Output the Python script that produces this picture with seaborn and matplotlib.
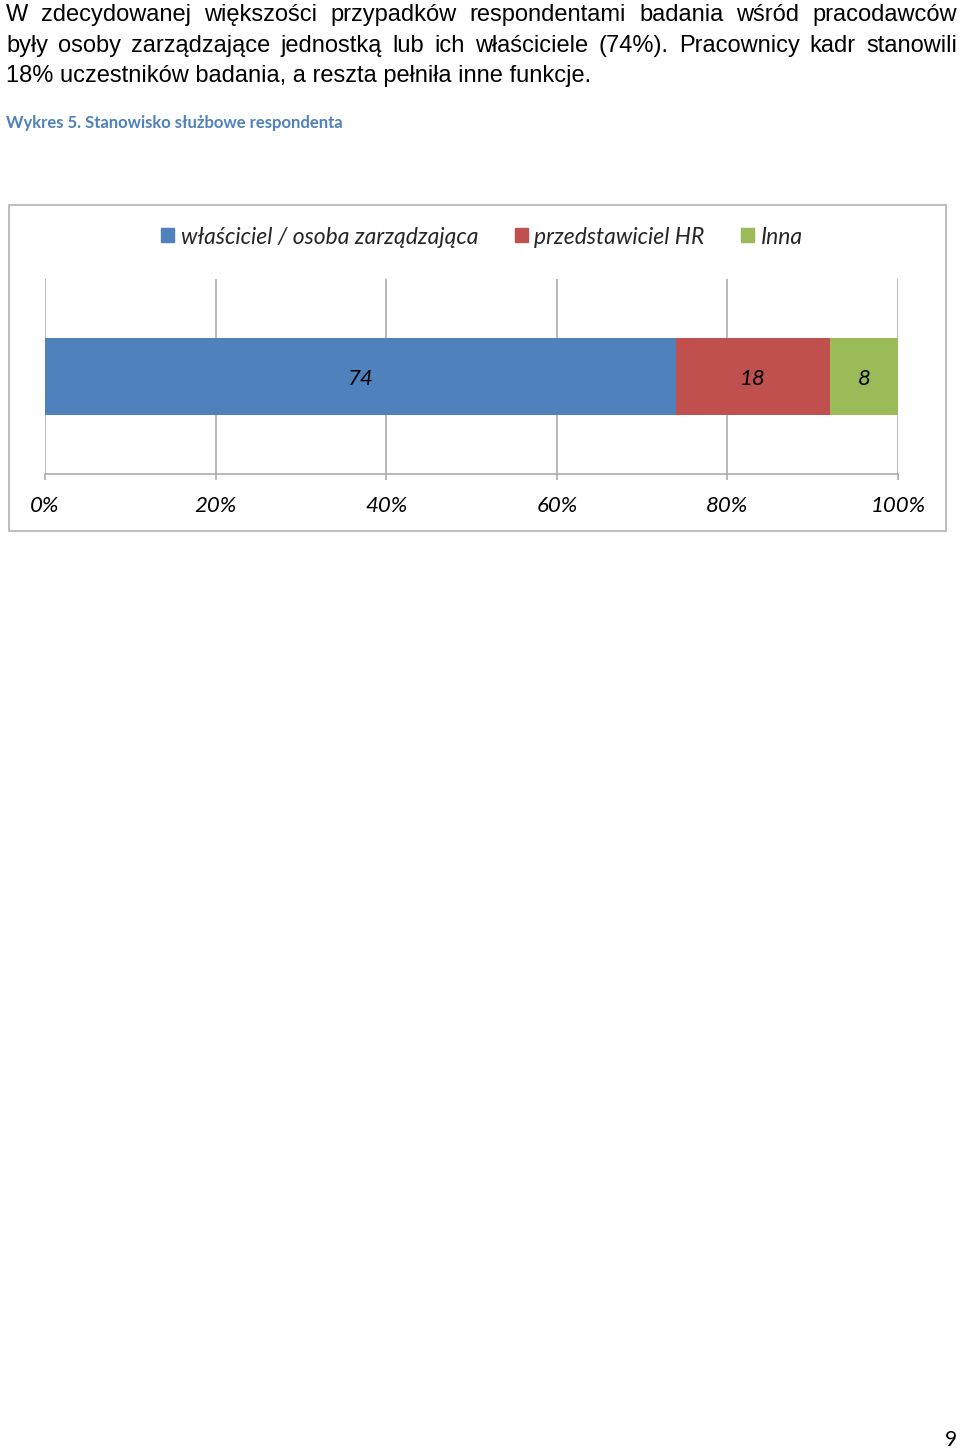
import matplotlib
matplotlib.use("Agg")
import matplotlib.pyplot as plt
import matplotlib.patches as mpatches
import seaborn as sns
import pandas as pd

# data
categories = ["właściciel / osoba zarządzająca", "przedstawiciel HR", "Inna"]
values = [74, 18, 8]
colors = ["#4f81bd", "#c0504d", "#9bbb59"]
xticks = [0, 20, 40, 60, 80, 100]

para_lines = [
    "W zdecydowanej większości przypadków respondentami badania wśród pracodawców",
    "były osoby zarządzające jednostką lub ich właściciele (74%). Pracownicy kadr stanowili",
    "18% uczestników badania, a reszta pełniła inne funkcje.",
]
caption = "Wykres 5. Stanowisko służbowe respondenta"
page_no = "9"

sns.set_theme(style="white")
plt.rcParams['font.family'] = ['Liberation Sans', 'DejaVu Sans']

W, H = 960, 1449
fig = plt.figure(figsize=(W / 100, H / 100), dpi=100)
fig.patch.set_facecolor("white")


def fx(px):
    return px / W


def fy(py):
    return 1 - py / H


# paragraph text, first two lines justified
renderer = fig.canvas.get_renderer()
baselines = [21, 52, 82]
left, right = 6, 957
for i, line in enumerate(para_lines):
    if i < 2:
        words = line.split(" ")
        texts = [fig.text(0, fy(baselines[i]), w, fontsize=17, va="baseline",
                          color="black") for w in words]
        widths = [t.get_window_extent(renderer).width for t in texts]
        gap = (right - left - sum(widths)) / (len(words) - 1)
        x = left
        for t, w in zip(texts, widths):
            t.set_x(fx(x))
            x += w + gap
    else:
        fig.text(fx(left), fy(baselines[i]), line, fontsize=17, va="baseline",
                 color="black")

fig.text(fx(6), fy(128), caption, fontsize=12, fontweight="bold",
         family=["Lato", "DejaVu Sans"], color="#4f81bd", va="baseline")

# chart frame
fig.patches.append(mpatches.Rectangle((fx(9), fy(531)), fx(946) - fx(9),
                                      fy(205) - fy(531), transform=fig.transFigure,
                                      fill=False, edgecolor="#b8b8b8", linewidth=1.3))

ax = fig.add_axes([fx(45), fy(474), fx(898) - fx(45), fy(279) - fy(474)])

df = pd.DataFrame({"category": categories, "value": values, "color": colors})
df["cum"] = df["value"].cumsum()

# stacked: draw cumulative bars from the longest to the shortest
for _, r in df[::-1].iterrows():
    sns.barplot(data=pd.DataFrame({"row": [""], "cum": [r["cum"]]}), x="cum", y="row",
                orient="h", color=r["color"], saturation=1, width=0.395,
                linewidth=0, ax=ax, zorder=3)

for _, r in df.iterrows():
    ax.text(r["cum"] - r["value"] / 2, 0.015, str(r["value"]), ha="center", va="center",
            fontsize=16, style="italic", family=["Lato", "DejaVu Sans"], color="black",
            zorder=4)

ax.set_xlim(0, 100)
ax.set_ylim(0.5, -0.5)
ax.set_xticks(xticks)
ax.set_xticklabels([f"{t}%" for t in xticks], fontsize=16, style="italic",
                   family=["Lato", "DejaVu Sans"])
ax.set_yticks([])
ax.set_xlabel("")
ax.set_ylabel("")
ax.grid(axis="x", color="#a6a6a6", linewidth=1.1, zorder=0)
ax.set_axisbelow(True)
for s in ["top", "left", "right"]:
    ax.spines[s].set_visible(False)
ax.spines["bottom"].set_color("#a6a6a6")
ax.spines["bottom"].set_linewidth(1.1)
ax.tick_params(axis="x", bottom=True, direction="out", length=4.5, width=1.1,
               color="#a6a6a6", pad=11, labelcolor="black")
ax.set_facecolor("white")

handles = [mpatches.Patch(color=c, label=l) for c, l in zip(colors, categories)]
fig.legend(handles=handles, loc="center", bbox_to_anchor=(fx(482), fy(237)), ncol=3,
           frameon=False, handlelength=0.57, handleheight=0.57, handletextpad=0.28,
           columnspacing=1.6, prop={"family": ["Lato", "DejaVu Sans"], "style": "italic",
                                    "size": 16.5})

fig.text(fx(957), fy(1446), page_no, fontsize=15, family=["Lato", "DejaVu Sans"],
         ha="right", va="baseline", color="black")

fig.savefig("out.png", dpi=100, facecolor="white")
